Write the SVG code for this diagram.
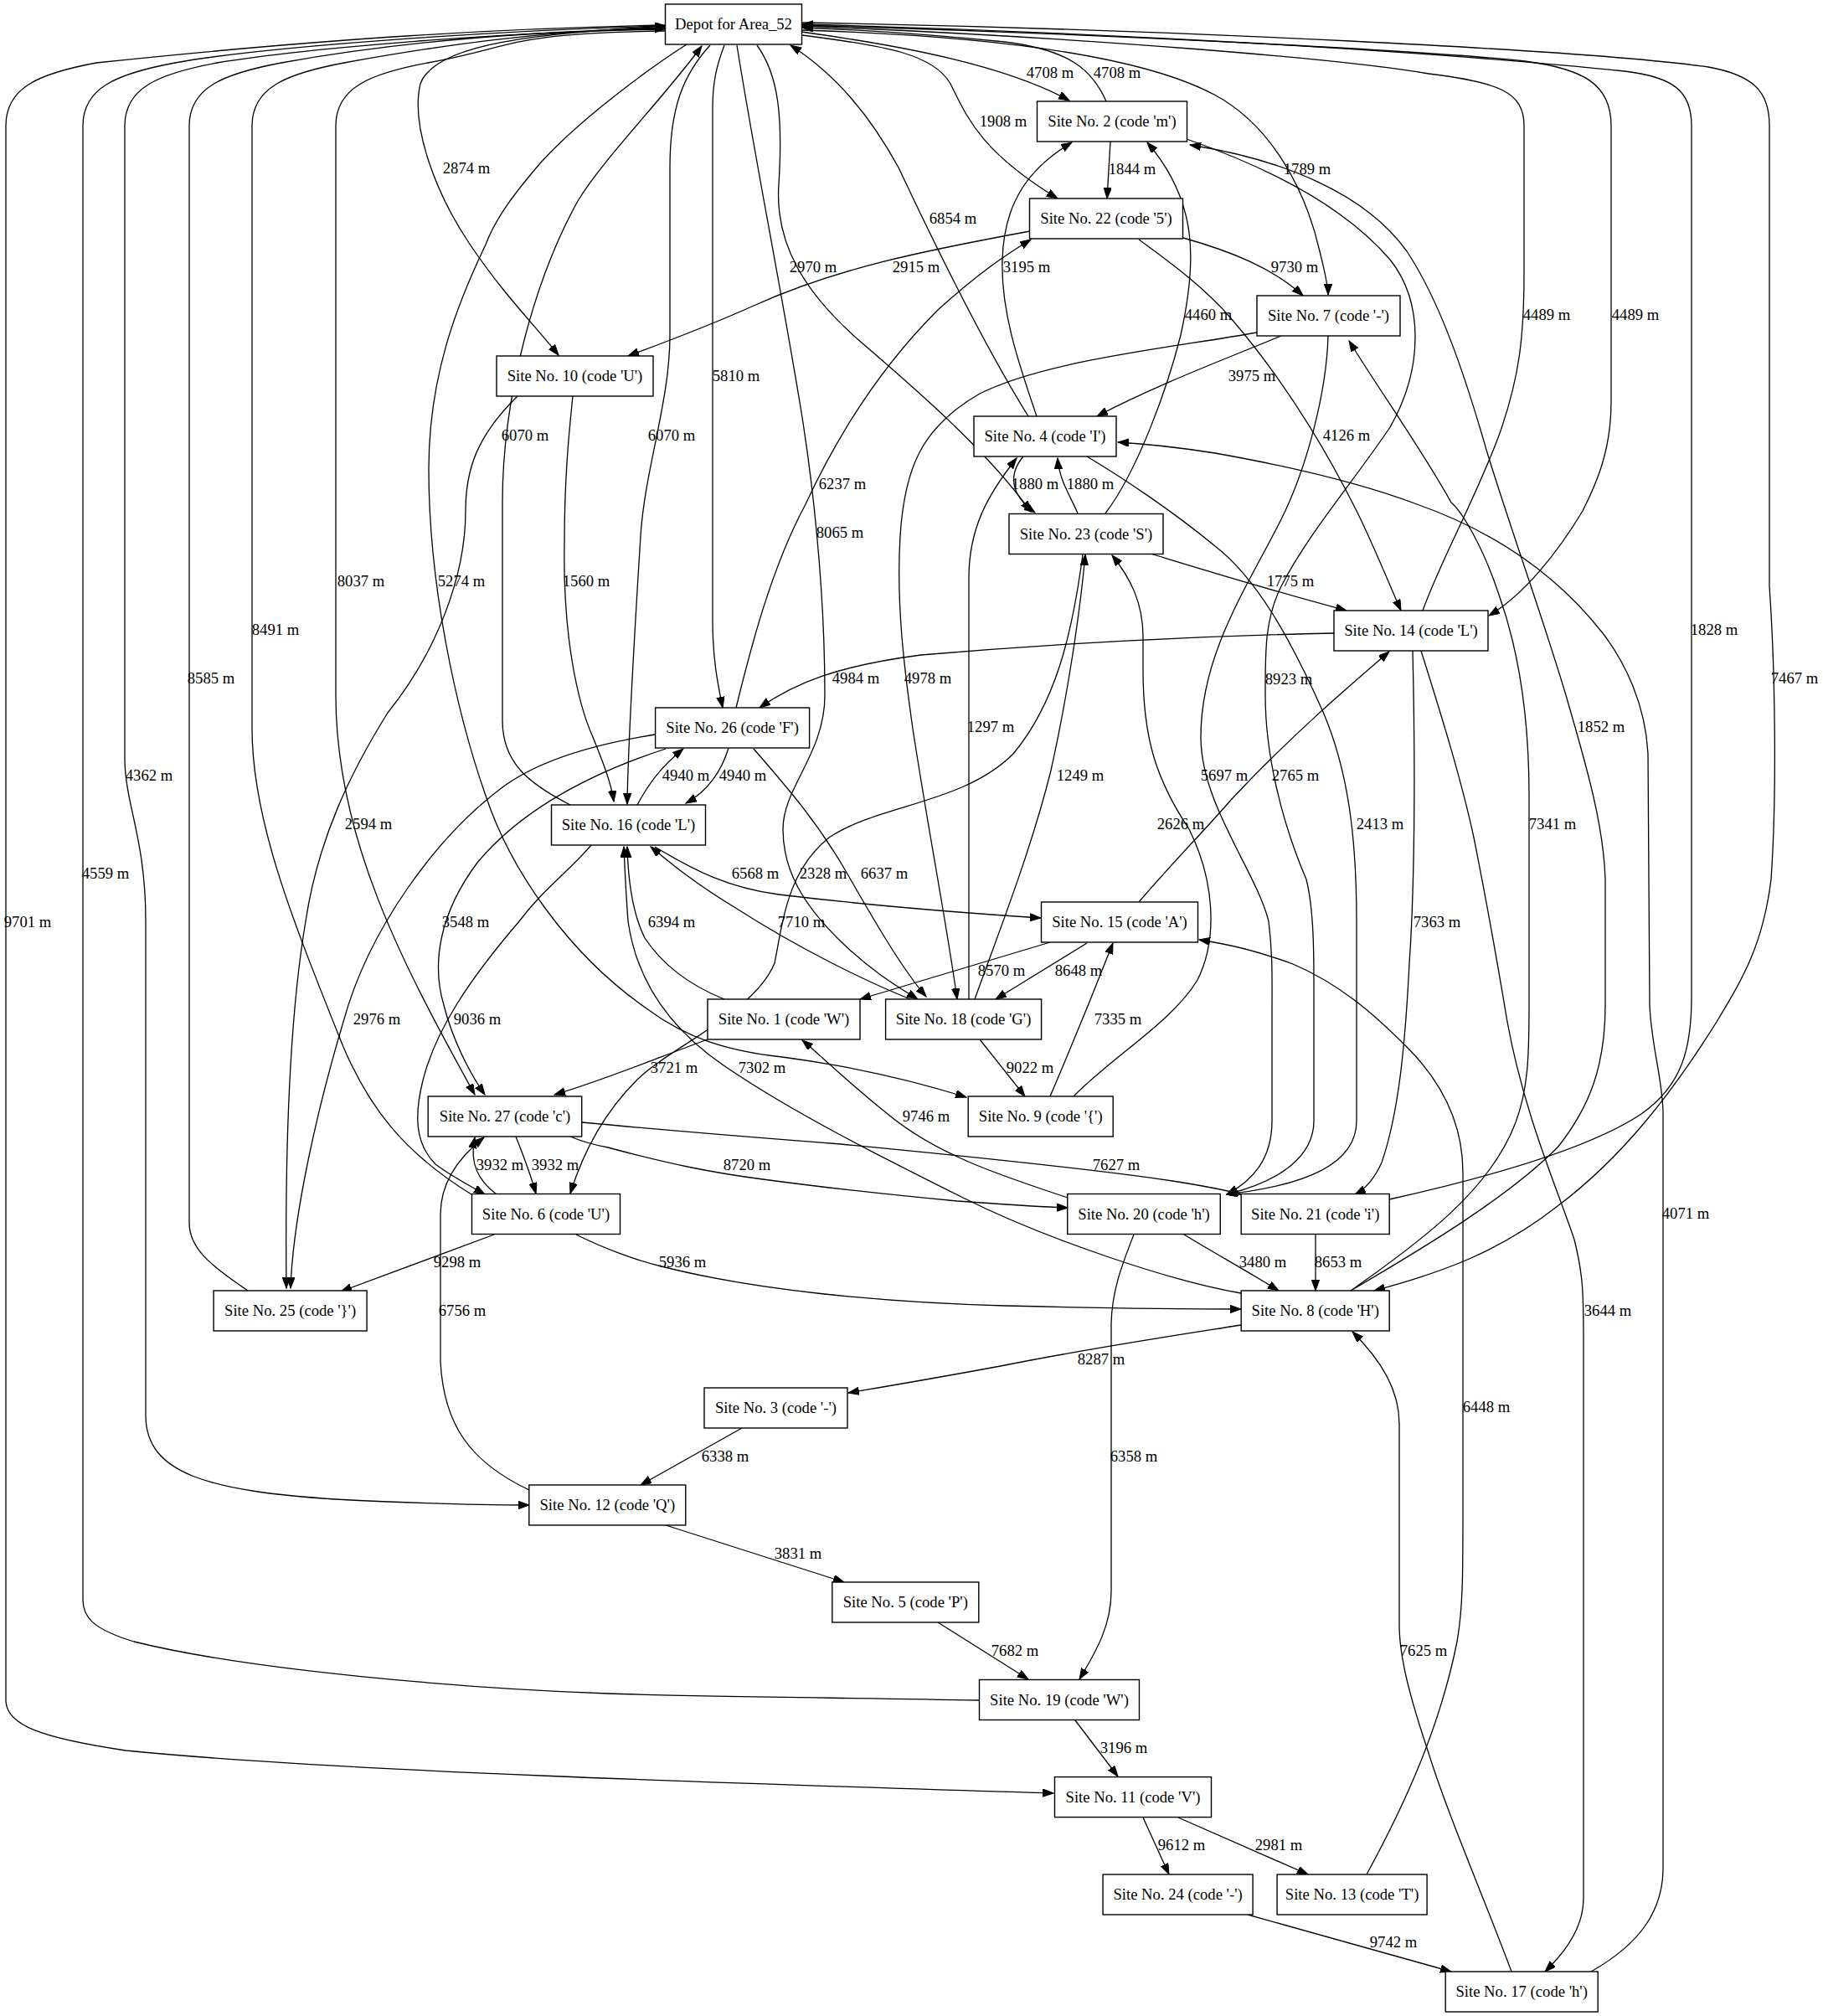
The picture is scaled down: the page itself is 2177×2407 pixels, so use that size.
<svg xmlns="http://www.w3.org/2000/svg" width="2177" height="2407" viewBox="0 0 2177 2407">
<defs>
<marker id="a" markerWidth="14" markerHeight="10" refX="13" refY="4.7" orient="auto" markerUnits="userSpaceOnUse"><path d="M0,0 L13,4.7 L0,9.4 z" fill="#000" stroke="#000" stroke-width="1"/></marker>
<style>
text{font-family:"Liberation Serif","Times New Roman",serif;font-size:18.67px;fill:#000}
.n rect{fill:#fff;stroke:#000;stroke-width:1.4}
.n text{text-anchor:middle}
#edges path{fill:none;stroke:#000;stroke-width:1.3;marker-end:url(#a)}
#labels text{text-anchor:middle}
</style>
</defs>
<rect width="2177" height="2407" fill="#fff"/>
<g id="edges">
<path d="M957,38 C1080,55 1200,78 1277,120"/>
<path d="M1321,121 C1305,85 1280,60 1200,50 C1120,42 1040,36 958,33"/>
<path d="M958,42 C1060,55 1115,65 1135,100 C1155,140 1170,180 1263,237"/>
<path d="M795,31 C650,40 520,50 502,100 C490,150 520,230 560,290 C600,350 640,390 667,424"/>
<path d="M1326,169 L1322,237"/>
<path d="M958,36 C1150,42 1350,60 1450,113 C1520,150 1560,230 1576,300 C1582,325 1586,340 1586,352"/>
<path d="M1228,497 C1180,420 1120,300 1073,200 C1040,140 1000,90 944,54"/>
<path d="M904,54 C930,90 935,140 930,220 C925,290 960,350 1030,410 C1100,470 1180,540 1231,611"/>
<path d="M1230,276 C1100,300 1000,320 900,365 C840,392 790,410 750,425"/>
<path d="M1238,497 C1215,430 1195,370 1197,310 C1199,240 1230,200 1280,170"/>
<path d="M1413,284 C1470,300 1520,320 1556,353"/>
<path d="M1320,613 C1360,560 1395,460 1410,400 C1430,310 1430,240 1370,170"/>
<path d="M865,54 C855,80 851,100 851,130 L851,740 C851,790 858,820 863,845"/>
<path d="M1530,401 C1460,430 1380,460 1310,497"/>
<path d="M681,961 C630,935 600,910 600,860 L600,600 C600,470 640,330 690,240 C720,190 790,120 838,55"/>
<path d="M848,54 C815,90 800,130 800,200 L800,400 C800,480 770,560 765,640 C760,720 750,880 749,960"/>
<path d="M1360,286 C1400,315 1440,345 1470,380 C1530,450 1580,530 1620,610 C1640,650 1660,700 1673,729"/>
<path d="M879,845 C895,780 920,680 962,602 C1000,520 1050,440 1120,370 C1170,325 1200,305 1231,286"/>
<path d="M1222,545 C1205,565 1205,590 1236,612"/>
<path d="M1287,613 C1280,595 1265,575 1263,547"/>
<path d="M880,54 C900,180 930,330 955,480 C970,570 985,700 985,830 C985,900 935,940 935,990 C935,1040 960,1080 1000,1120 C1040,1160 1075,1180 1096,1193"/>
<path d="M795,37 C600,40 621,55 511,75 C441,88 401,105 401,150 L401,830 C401,1000 480,1150 567,1307"/>
<path d="M820,53 C770,85 690,145 645,195 C615,230 592,260 580,292 C545,365 512,450 512,560 C512,700 545,850 580,950 C610,1040 680,1140 772,1204 C820,1240 870,1255 934,1262 C1010,1272 1090,1290 1154,1310"/>
<path d="M684,473 C678,530 674,580 674,650 C672,760 690,840 708,880 C720,910 730,935 733,957"/>
<path d="M1374,661 C1420,675 1500,700 1608,729"/>
<path d="M563,1426 C480,1375 440,1320 410,1250 C350,1100 301,980 301,870 L301,150 C301,105 341,88 411,75 C521,55 650,36 795,33"/>
<path d="M1417,166 C1500,195 1600,240 1660,310 C1700,360 1700,440 1660,510 C1620,570 1560,640 1530,700 C1510,740 1511,780 1511,830 C1511,900 1530,980 1560,1050 C1570,1090 1569,1150 1569,1200 L1569,1338 C1569,1380 1530,1410 1465,1426"/>
<path d="M296,1541 C250,1510 226,1490 226,1460 L226,150 C226,105 266,88 336,75 C446,55 600,38 795,34"/>
<path d="M1593,756 C1450,759 1300,765 1100,782 C1000,795 950,815 907,845"/>
<path d="M1501,397 C1400,415 1250,430 1170,470 C1100,510 1080,560 1075,640 C1070,720 1080,800 1090,870 C1110,1000 1130,1100 1143,1193"/>
<path d="M1699,729 C1720,670 1760,600 1790,520 C1815,450 1820,400 1820,326 L1820,150 C1820,110 1790,98 1706,88 C1600,70 1300,45 958,31"/>
<path d="M958,30 C1300,40 1700,60 1821,73 C1890,82 1924,100 1924,150 L1924,480 C1924,540 1905,580 1890,610 C1860,660 1820,710 1778,735"/>
<path d="M1659,1432 C1780,1405 1900,1370 1960,1330 C2010,1295 2020,1250 2020,1190 L2020,150 C2020,110 2000,92 1940,85 C1700,60 1300,38 958,29"/>
<path d="M958,27 C1400,35 1900,60 2040,80 C2095,90 2113,110 2113,150 L2113,700 C2120,800 2122,950 2115,1050 C2105,1130 2080,1170 2050,1220 C2000,1300 1940,1380 1860,1440 C1790,1495 1720,1520 1641,1541"/>
<path d="M1157,1193 L1157,690 C1157,630 1180,590 1214,547"/>
<path d="M1613,1541 C1700,1490 1800,1430 1860,1370 C1900,1320 1917,1270 1917,1200 L1917,1050 C1915,980 1890,900 1870,830 C1840,730 1800,620 1775,537 C1750,450 1720,360 1680,300 C1630,230 1530,190 1421,173"/>
<path d="M761,961 C775,935 790,915 816,894"/>
<path d="M870,893 C862,920 845,945 819,959"/>
<path d="M1164,1193 C1190,1120 1230,1020 1255,920 C1275,830 1290,730 1296,662"/>
<path d="M1586,401 C1584,470 1560,560 1530,620 C1490,700 1434,780 1434,880 C1434,960 1500,1040 1515,1100 C1520,1140 1519,1170 1519,1210 L1519,1338 C1519,1385 1495,1410 1465,1426"/>
<path d="M1360,1077 C1400,1030 1440,990 1470,955 C1540,880 1610,820 1659,778"/>
<path d="M795,35 C600,38 370,57 259,75 C189,88 149,105 149,150 L149,905 C149,960 174,1000 174,1100 L174,1690 C174,1760 250,1780 400,1790 C500,1795 580,1797 632,1797"/>
<path d="M618,473 C570,520 556,560 556,610 C556,690 520,780 463,851 C420,920 380,1000 365,1100 C348,1200 340,1350 342,1538"/>
<path d="M1282,1309 C1330,1260 1400,1220 1430,1170 C1455,1120 1450,1050 1420,990 C1380,930 1365,880 1365,800 L1365,760 C1365,720 1350,690 1328,663"/>
<path d="M1298,545 C1340,570 1400,610 1451,652 C1500,690 1540,760 1580,850 C1610,920 1620,1000 1620,1100 L1620,1338 C1620,1390 1560,1415 1465,1426"/>
<path d="M1613,1541 C1700,1480 1780,1420 1810,1340 C1825,1300 1826,1260 1826,1200 L1826,950 C1826,860 1815,780 1790,710 C1770,650 1745,610 1733,600 C1700,540 1650,470 1611,407"/>
<path d="M782,1011 C830,1040 870,1060 930,1068 C1030,1080 1150,1090 1243,1096"/>
<path d="M1293,662 C1280,760 1260,840 1210,900 C1150,960 1050,960 990,1000 C940,1040 935,1100 925,1150 C900,1210 800,1250 760,1290 C720,1330 695,1380 681,1425"/>
<path d="M900,894 C940,940 975,980 1010,1040 C1050,1110 1080,1160 1106,1190"/>
<path d="M1169,2030 C1000,2027 800,2025 726,2022 C560,2016 300,1995 160,1960 C110,1945 99,1930 99,1910 L99,150 C99,105 139,88 209,75 C319,55 600,36 795,31"/>
<path d="M795,30 C600,34 400,45 115,75 C45,88 7,105 7,150 L7,2030 C7,2060 50,2075 150,2090 C400,2115 900,2130 1258,2141"/>
<path d="M795,894 C700,925 620,970 570,1030 C525,1090 515,1150 530,1200 C540,1240 560,1280 579,1307"/>
<path d="M865,1193 C820,1175 790,1150 770,1120 C755,1090 750,1050 749,1011"/>
<path d="M1087,1193 C1030,1170 950,1130 880,1085 C830,1055 800,1030 777,1011"/>
<path d="M1687,777 C1690,900 1690,1050 1683,1150 C1678,1250 1670,1330 1650,1388 C1640,1410 1630,1420 1618,1426"/>
<path d="M1254,1125 L1027,1193"/>
<path d="M1298,1126 L1189,1193"/>
<path d="M782,877 C700,890 640,910 600,940 C520,1000 440,1110 410,1220 C380,1320 350,1450 347,1538"/>
<path d="M706,1009 C680,1040 650,1060 620,1100 C560,1170 520,1230 505,1290 C495,1330 495,1365 520,1390 C540,1405 560,1415 579,1426"/>
<path d="M1254,1309 C1275,1260 1300,1200 1329,1126"/>
<path d="M845,1241 C780,1265 720,1290 662,1307"/>
<path d="M1482,1544 C1400,1530 1250,1480 1150,1430 C1050,1380 950,1330 870,1276 C800,1230 760,1170 750,1100 C747,1060 746,1035 745,1011"/>
<path d="M1170,1241 L1224,1309"/>
<path d="M1275,1430 C1200,1405 1120,1380 1060,1330 C1010,1290 980,1260 958,1242"/>
<path d="M616,1357 C625,1380 633,1400 640,1425"/>
<path d="M593,1426 C572,1410 560,1390 567,1358"/>
<path d="M681,1357 C700,1365 715,1368 726,1370 C800,1390 850,1400 911,1408 C1000,1420 1100,1430 1143,1434 C1200,1438 1240,1441 1275,1442"/>
<path d="M695,1340 C800,1350 900,1358 1004,1366 C1150,1380 1300,1395 1400,1410 C1440,1416 1460,1420 1482,1426"/>
<path d="M1900,2354 C1960,2320 1986,2280 1986,2230 L1986,1330 C1986,1290 1972,1250 1970,1200 L1968,900 C1965,840 1940,790 1914,756 C1870,700 1800,640 1692,602 C1620,575 1530,555 1451,541 C1400,533 1370,530 1335,528"/>
<path d="M590,1474 L407,1542"/>
<path d="M688,1474 C720,1490 760,1505 790,1512 C900,1540 1050,1555 1200,1559 C1320,1562 1420,1563 1482,1563"/>
<path d="M1414,1474 C1450,1496 1490,1518 1527,1541"/>
<path d="M1571,1474 L1571,1541"/>
<path d="M632,1779 C560,1745 530,1700 526,1626 L526,1450 C526,1410 550,1380 578,1358"/>
<path d="M1697,777 C1720,850 1745,930 1760,1000 C1780,1100 1790,1160 1800,1220 C1820,1330 1860,1420 1880,1480 C1890,1520 1891,1540 1891,1600 L1891,2267 C1891,2300 1870,2330 1845,2354"/>
<path d="M1482,1582 C1400,1595 1300,1610 1200,1630 C1120,1645 1060,1655 1013,1663"/>
<path d="M1632,2238 C1680,2150 1720,2060 1740,1960 C1747,1920 1747,1880 1747,1806 L1747,1400 C1747,1340 1720,1290 1680,1250 C1640,1210 1600,1175 1544,1151 C1500,1135 1470,1128 1432,1122"/>
<path d="M886,1705 L765,1773"/>
<path d="M1354,1474 C1340,1510 1328,1540 1327,1580 L1327,1900 C1327,1940 1310,1970 1289,2005"/>
<path d="M795,1821 L1008,1889"/>
<path d="M1120,1937 L1228,2005"/>
<path d="M1805,2354 C1770,2260 1730,2170 1705,2090 C1685,2030 1671,1980 1671,1940 L1671,1700 C1671,1660 1650,1625 1615,1590"/>
<path d="M1284,2054 L1335,2121"/>
<path d="M1365,2170 L1396,2238"/>
<path d="M1407,2170 L1562,2238"/>
<path d="M1490,2286 L1733,2354"/>
</g>
<g id="labels">
<text x="1254" y="93">4708 m</text>
<text x="1334" y="93">4708 m</text>
<text x="1198" y="151">1908 m</text>
<text x="557" y="207">2874 m</text>
<text x="1352" y="208">1844 m</text>
<text x="1561" y="208">1789 m</text>
<text x="1138" y="267">6854 m</text>
<text x="971" y="325">2970 m</text>
<text x="1094" y="325">2915 m</text>
<text x="1226" y="325">3195 m</text>
<text x="1546" y="325">9730 m</text>
<text x="1443" y="382">4460 m</text>
<text x="879" y="455">5810 m</text>
<text x="1495" y="455">3975 m</text>
<text x="627" y="526">6070 m</text>
<text x="802" y="526">6070 m</text>
<text x="1608" y="526">4126 m</text>
<text x="1006" y="584">6237 m</text>
<text x="1236" y="584">1880 m</text>
<text x="1302" y="584">1880 m</text>
<text x="1003" y="642">8065 m</text>
<text x="431" y="700">8037 m</text>
<text x="551" y="700">5274 m</text>
<text x="700" y="700">1560 m</text>
<text x="1541" y="700">1775 m</text>
<text x="329" y="758">8491 m</text>
<text x="1539" y="817">8923 m</text>
<text x="252" y="816">8585 m</text>
<text x="1022" y="816">4984 m</text>
<text x="1108" y="816">4978 m</text>
<text x="1847" y="382">4489 m</text>
<text x="1953" y="382">4489 m</text>
<text x="2047" y="758">1828 m</text>
<text x="2143" y="816">7467 m</text>
<text x="1183" y="874">1297 m</text>
<text x="1912" y="874">1852 m</text>
<text x="819" y="932">4940 m</text>
<text x="887" y="932">4940 m</text>
<text x="1290" y="932">1249 m</text>
<text x="1462" y="932">5697 m</text>
<text x="1547" y="932">2765 m</text>
<text x="178" y="932">4362 m</text>
<text x="440" y="990">2594 m</text>
<text x="1410" y="990">2626 m</text>
<text x="1648" y="990">2413 m</text>
<text x="1854" y="990">7341 m</text>
<text x="902" y="1049">6568 m</text>
<text x="983" y="1049">2328 m</text>
<text x="1056" y="1049">6637 m</text>
<text x="126" y="1049">4559 m</text>
<text x="33" y="1107">9701 m</text>
<text x="556" y="1107">3548 m</text>
<text x="802" y="1107">6394 m</text>
<text x="957" y="1107">7710 m</text>
<text x="1716" y="1107">7363 m</text>
<text x="1196" y="1165">8570 m</text>
<text x="1288" y="1165">8648 m</text>
<text x="450" y="1223">2976 m</text>
<text x="570" y="1223">9036 m</text>
<text x="1335" y="1223">7335 m</text>
<text x="805" y="1281">3721 m</text>
<text x="910" y="1281">7302 m</text>
<text x="1230" y="1281">9022 m</text>
<text x="1106" y="1339">9746 m</text>
<text x="597" y="1397">3932 m</text>
<text x="663" y="1397">3932 m</text>
<text x="892" y="1397">8720 m</text>
<text x="1333" y="1397">7627 m</text>
<text x="2013" y="1455">4071 m</text>
<text x="546" y="1513">9298 m</text>
<text x="815" y="1513">5936 m</text>
<text x="1508" y="1513">3480 m</text>
<text x="1598" y="1513">8653 m</text>
<text x="552" y="1571">6756 m</text>
<text x="1920" y="1571">3644 m</text>
<text x="1315" y="1629">8287 m</text>
<text x="1775" y="1686">6448 m</text>
<text x="866" y="1745">6338 m</text>
<text x="1354" y="1745">6358 m</text>
<text x="953" y="1861">3831 m</text>
<text x="1212" y="1977">7682 m</text>
<text x="1700" y="1977">7625 m</text>
<text x="1342" y="2093">3196 m</text>
<text x="1411" y="2209">9612 m</text>
<text x="1527" y="2209">2981 m</text>
<text x="1664" y="2325">9742 m</text>
</g>
<g id="nodes">
<g id="depot" class="n"><rect x="794.5" y="5" width="163" height="48"/><text x="876" y="35">Depot for Area_52</text></g>
<g id="s2" class="n"><rect x="1238.5" y="121" width="179" height="48"/><text x="1328" y="151">Site No. 2 (code 'm')</text></g>
<g id="s22" class="n"><rect x="1229.5" y="237" width="183" height="48"/><text x="1321" y="267">Site No. 22 (code '5')</text></g>
<g id="s7" class="n"><rect x="1501" y="353" width="171" height="48"/><text x="1586.5" y="383">Site No. 7 (code '-')</text></g>
<g id="s10" class="n"><rect x="593" y="425" width="187" height="48"/><text x="686.5" y="455">Site No. 10 (code 'U')</text></g>
<g id="s4" class="n"><rect x="1163" y="497" width="170" height="48"/><text x="1248" y="527">Site No. 4 (code 'I')</text></g>
<g id="s23" class="n"><rect x="1205" y="613.5" width="184" height="48"/><text x="1297" y="643.5">Site No. 23 (code 'S')</text></g>
<g id="s14" class="n"><rect x="1593" y="729" width="184" height="48"/><text x="1685" y="759">Site No. 14 (code 'L')</text></g>
<g id="s26" class="n"><rect x="782.6" y="845" width="184" height="48"/><text x="874.6" y="875">Site No. 26 (code 'F')</text></g>
<g id="s16" class="n"><rect x="658.5" y="961" width="184" height="48"/><text x="750.5" y="991">Site No. 16 (code 'L')</text></g>
<g id="s15" class="n"><rect x="1243.5" y="1077" width="187" height="48"/><text x="1337" y="1107">Site No. 15 (code 'A')</text></g>
<g id="s1" class="n"><rect x="845" y="1193" width="182" height="48"/><text x="936" y="1223">Site No. 1 (code 'W')</text></g>
<g id="s18" class="n"><rect x="1057.6" y="1193" width="186" height="48"/><text x="1150.6" y="1223">Site No. 18 (code 'G')</text></g>
<g id="s9" class="n"><rect x="1156.2" y="1309" width="173" height="48"/><text x="1242.7" y="1339">Site No. 9 (code '{')</text></g>
<g id="s27" class="n"><rect x="511.2" y="1309" width="183.5" height="48"/><text x="603" y="1339">Site No. 27 (code 'c')</text></g>
<g id="s6" class="n"><rect x="563.5" y="1425.5" width="177" height="48"/><text x="652" y="1455.5">Site No. 6 (code 'U')</text></g>
<g id="s20" class="n"><rect x="1274.75" y="1425.5" width="182.5" height="48"/><text x="1366" y="1455.5">Site No. 20 (code 'h')</text></g>
<g id="s21" class="n"><rect x="1482.2" y="1425.5" width="177" height="48"/><text x="1570.7" y="1455.5">Site No. 21 (code 'i')</text></g>
<g id="s25" class="n"><rect x="255.1" y="1541" width="183" height="48"/><text x="346.6" y="1571">Site No. 25 (code '}')</text></g>
<g id="s8" class="n"><rect x="1482.2" y="1541" width="177" height="48"/><text x="1570.7" y="1571">Site No. 8 (code 'H')</text></g>
<g id="s3" class="n"><rect x="841" y="1657" width="171" height="48"/><text x="926.5" y="1687">Site No. 3 (code '-')</text></g>
<g id="s12" class="n"><rect x="631.8" y="1773" width="187" height="48"/><text x="725.3" y="1803">Site No. 12 (code 'Q')</text></g>
<g id="s5" class="n"><rect x="993.8" y="1889" width="175" height="48"/><text x="1081.3" y="1919">Site No. 5 (code 'P')</text></g>
<g id="s19" class="n"><rect x="1169.5" y="2005.5" width="191" height="48"/><text x="1265" y="2035.5">Site No. 19 (code 'W')</text></g>
<g id="s11" class="n"><rect x="1259.5" y="2121.6" width="187" height="48"/><text x="1353" y="2151.6">Site No. 11 (code 'V')</text></g>
<g id="s24" class="n"><rect x="1317.1" y="2238" width="179" height="48"/><text x="1406.6" y="2268">Site No. 24 (code '-')</text></g>
<g id="s13" class="n"><rect x="1525.1" y="2238" width="179" height="48"/><text x="1614.6" y="2268">Site No. 13 (code 'T')</text></g>
<g id="s17" class="n"><rect x="1726.2" y="2354" width="182" height="48"/><text x="1817.2" y="2384">Site No. 17 (code 'h')</text></g>
</g>
</svg>
